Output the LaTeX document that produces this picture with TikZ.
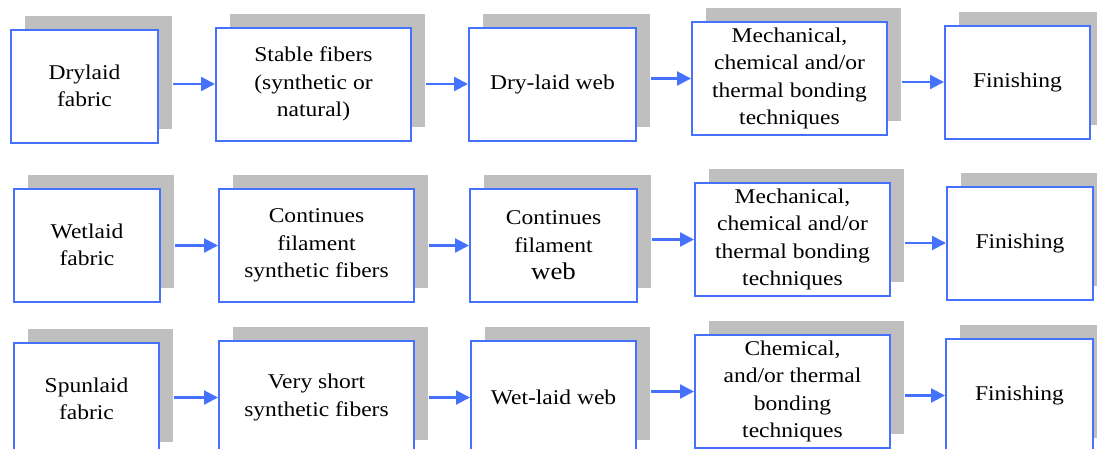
\documentclass[tikz,border=0pt]{standalone}
\usepackage{fontspec}
\setmainfont{Liberation Serif}[FakeStretch=1.12]
\usetikzlibrary{arrows.meta,shadows}
\definecolor{boxblue}{RGB}{68,114,255}
\definecolor{shadowgray}{RGB}{191,191,191}
\begin{document}
\begin{tikzpicture}[x=1pt,y=-1pt,
 box/.style={draw=boxblue,line width=2pt,fill=white,minimum height=113pt,inner sep=0pt,align=center,
  font=\fontsize{21pt}{27.5pt}\selectfont,
  general shadow={fill=shadowgray,shadow xshift=14pt,shadow yshift=14pt}},
 flow/.style={draw=boxblue,line width=2.2pt,-{Triangle[length=14pt,width=14pt]}}]
 \clip (0,0) rectangle (1097,448);
 \node[box,minimum width=147pt] (a1) at (84.5,86) {Drylaid\\fabric};
 \node[box,minimum width=195pt] (b1) at (313.5,84) {Stable fibers\\(synthetic or\\natural)};
 \node[box,minimum width=167pt] (c1) at (552.5,84) {Dry-laid web};
 \node[box,minimum width=195pt] (d1) at (789.5,78.5) {Mechanical,\\chemical and/or\\thermal bonding\\techniques};
 \node[box,minimum width=145pt] (e1) at (1017.5,82) {Finishing};
 \node[box,minimum width=146pt] (a2) at (87,245) {Wetlaid\\fabric};
 \node[box,minimum width=195pt] (b2) at (316.5,245.5) {Continues\\filament\\synthetic fibers};
 \node[box,minimum width=167pt] (c2) at (553.5,245.5) {Continues\\filament\\{\fontsize{24pt}{27.5pt}\selectfont web}};
 \node[box,minimum width=195pt] (d2) at (792.5,239.5) {Mechanical,\\chemical and/or\\thermal bonding\\techniques};
 \node[box,minimum width=146pt] (e2) at (1020,243) {Finishing};
 \node[box,minimum width=145pt] (a3) at (86.5,399) {Spunlaid\\fabric};
 \node[box,minimum width=195pt] (b3) at (316.5,397.5) {Very short\\synthetic fibers};
 \node[box,minimum width=165pt] (c3) at (553.5,397.5) {Wet-laid web};
 \node[box,minimum width=195pt] (d3) at (792.5,391.5) {Chemical,\\and/or thermal\\bonding\\techniques};
 \node[box,minimum width=147pt] (e3) at (1019.5,395.5) {Finishing};
 \draw[flow] ([xshift=14pt]a1.east |- b1.west) -- (b1.west);
 \draw[flow] ([xshift=14pt]b1.east |- c1.west) -- (c1.west);
 \draw[flow] ([xshift=14pt]c1.east |- d1.west) -- (d1.west);
 \draw[flow] ([xshift=14pt]d1.east |- e1.west) -- (e1.west);
 \draw[flow] ([xshift=14pt]a2.east |- b2.west) -- (b2.west);
 \draw[flow] ([xshift=14pt]b2.east |- c2.west) -- (c2.west);
 \draw[flow] ([xshift=14pt]c2.east |- d2.west) -- (d2.west);
 \draw[flow] ([xshift=14pt]d2.east |- e2.west) -- (e2.west);
 \draw[flow] ([xshift=14pt]a3.east |- b3.west) -- (b3.west);
 \draw[flow] ([xshift=14pt]b3.east |- c3.west) -- (c3.west);
 \draw[flow] ([xshift=14pt]c3.east |- d3.west) -- (d3.west);
 \draw[flow] ([xshift=14pt]d3.east |- e3.west) -- (e3.west);
\end{tikzpicture}
\end{document}
